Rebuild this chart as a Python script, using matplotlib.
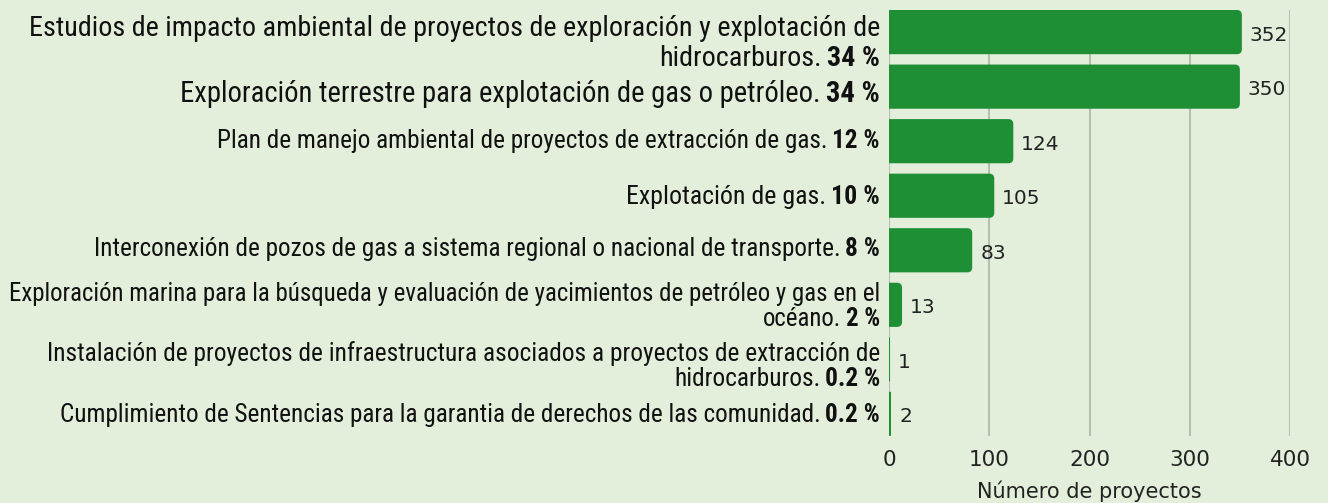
import numpy as np
import matplotlib.pyplot as plt
from matplotlib import font_manager
from matplotlib.patches import FancyBboxPatch

categorias = [
    ["Estudios de impacto ambiental de proyectos de exploración y explotación de", "hidrocarburos."],
    ["Exploración terrestre para explotación de gas o petróleo."],
    ["Plan de manejo ambiental de proyectos de extracción de gas."],
    ["Explotación de gas."],
    ["Interconexión de pozos de gas a sistema regional o nacional de transporte."],
    ["Exploración marina para la búsqueda y evaluación de yacimientos de petróleo y gas en el", "océano."],
    ["Instalación de proyectos de infraestructura asociados a proyectos de extracción de", "hidrocarburos."],
    ["Cumplimiento de Sentencias para la garantia de derechos de las comunidad."],
]
porcentajes = ["34 %", "34 %", "12 %", "10 %", "8 %", "2 %", "0.2 %", "0.2 %"]
proyectos = [352, 350, 124, 105, 83, 13, 1, 2]

# estilo de cada etiqueta: ancho de la línea más larga (px) y centro de cada línea respecto a la barra (px)
ancho_obj = [850, 700, 665, 253, 790, 872, 832, 823]
desp = [[-6.5, 23.5], [5.5], [-2.5], [-1], [-3], [-12.5, 12.5], [-7, 18], [-1]]

fondo = "#e3efdb"
verde = "#1f8f36"
disponibles = {f.name for f in font_manager.fontManager.ttflist}
candidatas = ["Roboto Condensed", "Liberation Sans Narrow", "Open Sans Condensed", "Lato"]
fuente = [next(c for c in candidatas + ["DejaVu Sans"] if c in disponibles), "DejaVu Sans"]

fig = plt.figure(figsize=(13.28, 5.03), dpi=100, facecolor=fondo)
ax = fig.add_axes([889 / 1328, 67 / 503, 401 / 1328, 426 / 503])
ax.set_facecolor(fondo)

y = np.arange(len(proyectos))
barras = ax.barh(y, proyectos, height=0.81, color=verde)
ax.set_xlim(0, 400)
ax.set_ylim(len(proyectos) - 1 + 0.405, -0.405)

# barras con esquinas redondeadas a la derecha
px_y = 426 / 7.81
for b in barras:
    x0, y0, w, h = b.get_x(), b.get_y(), b.get_width(), b.get_height()
    b.set_visible(False)
    r = min(5, w / 2)
    ax.add_patch(FancyBboxPatch((x0 - 8, y0), w + 8, h,
                                boxstyle=f"round,pad=0,rounding_size={r}",
                                mutation_aspect=1 / px_y, color=verde, lw=0, zorder=3))

ax.set_xticks([0, 100, 200, 300, 400])
ax.set_yticks([])
ax.grid(axis="x", color="#b7beb2", lw=1.5)
ax.set_axisbelow(True)
for s in ax.spines.values():
    s.set_visible(False)
ax.axvline(0, color="#b7beb2", lw=1.5, zorder=1)
ax.tick_params(axis="x", length=0, pad=10, labelsize=15.5, labelcolor="#222222")
ax.set_xlabel("Número de proyectos", fontsize=15, color="#222222", labelpad=8)

for i, v in enumerate(proyectos):
    ax.annotate(str(v), (v, i), xytext=(8, -3), textcoords="offset pixels",
                ha="left", va="center", fontsize=14.5, color="#222222")

fig.canvas.draw()
rend = fig.canvas.get_renderer()
k = 100 / 72
hueco = 0.18


def ancho(texto, fs, peso="normal"):
    t = fig.text(0, 0, texto, fontsize=fs, fontweight=peso, family=fuente)
    w = t.get_window_extent(rend).width
    t.remove()
    return w


for i, lineas in enumerate(categorias):
    # tamaño de letra para que la línea más larga ocupe lo mismo que en el original
    fs0 = 18
    anchos = []
    for j, linea in enumerate(lineas):
        w = ancho(linea, fs0)
        if j == len(lineas) - 1:
            w += ancho(porcentajes[i], fs0, "bold") + hueco * fs0 * k
        anchos.append(w)
    fs = fs0 * ancho_obj[i] / max(anchos)
    cap = 0.36 * fs * k
    for j, linea in enumerate(lineas):
        dy = -(desp[i][j] + cap)
        if j == len(lineas) - 1:
            tb = ax.annotate(porcentajes[i], (0, i), xytext=(-9, dy), textcoords="offset pixels",
                             ha="right", va="baseline", fontsize=fs, fontweight="bold",
                             family=fuente, color="#111111")
            wb = tb.get_window_extent(rend).width
            ax.annotate(linea, (0, i), xytext=(-9 - wb - hueco * fs * k, dy), textcoords="offset pixels",
                        ha="right", va="baseline", fontsize=fs, family=fuente, color="#111111")
        else:
            ax.annotate(linea, (0, i), xytext=(-9, dy), textcoords="offset pixels",
                        ha="right", va="baseline", fontsize=fs, family=fuente, color="#111111")

fig.savefig("out.png", dpi=100, facecolor=fondo)
